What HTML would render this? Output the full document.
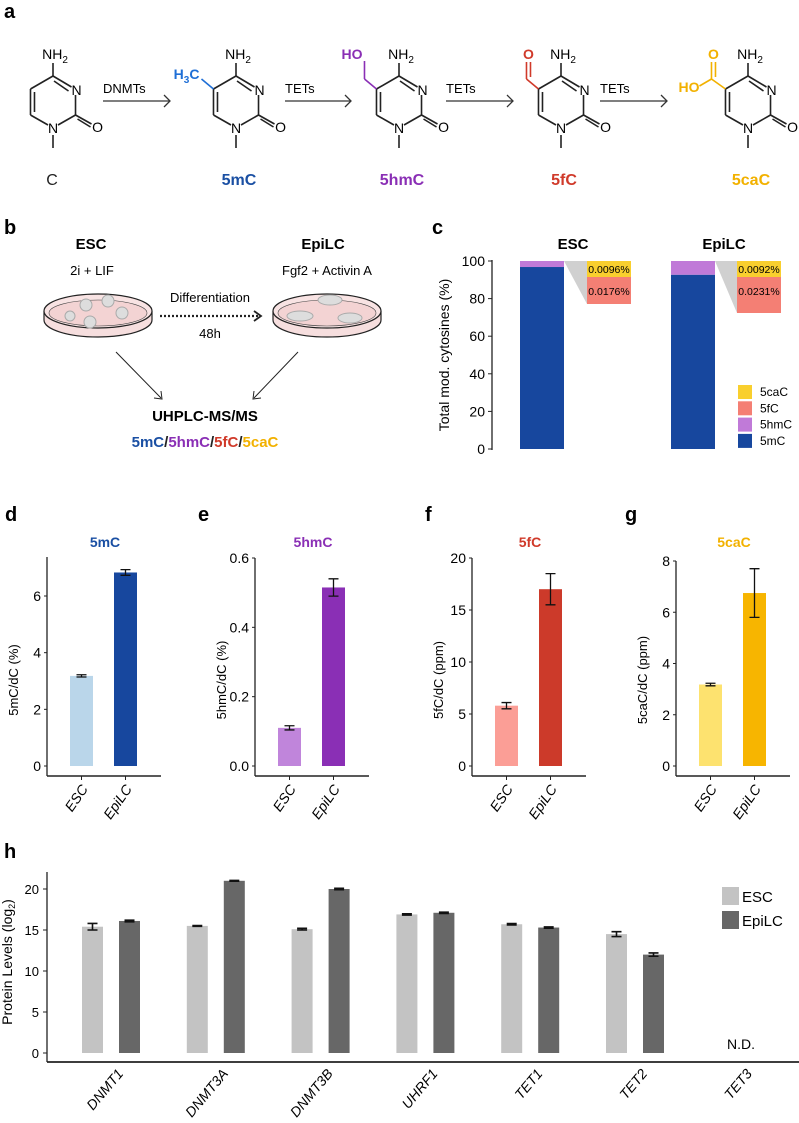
<!DOCTYPE html>
<html><head><meta charset="utf-8"><style>
html,body{margin:0;padding:0;background:#fff;}
svg{display:block;font-family:"Liberation Sans",sans-serif;}
</style></head><body>
<svg id="fig" width="799" height="1123" viewBox="0 0 799 1123" xmlns="http://www.w3.org/2000/svg">
<g id="pa">
<text x="4" y="18" font-size="20" font-weight="bold">a</text>
</g>
<g id="pb">
<text x="4" y="234" font-size="20" font-weight="bold">b</text>
<text x="91" y="249" font-size="15" font-weight="bold" text-anchor="middle">ESC</text>
<text x="92" y="275" font-size="13" text-anchor="middle">2i + LIF</text>
<text x="323" y="249" font-size="15" font-weight="bold" text-anchor="middle">EpiLC</text>
<text x="327" y="275" font-size="13" text-anchor="middle">Fgf2 + Activin A</text>
<g>
<path d="M44 311 L44 320 A54 17 0 0 0 152 320 L152 311" fill="#f6dede" stroke="#222" stroke-width="1.2"/>
<ellipse cx="98" cy="311" rx="54" ry="17" fill="#f8e3e3" stroke="#222" stroke-width="1.2"/>
<ellipse cx="98" cy="313" rx="49" ry="13" fill="#f3d3d3" stroke="#444" stroke-width="0.6"/>
<circle cx="86" cy="305" r="6" fill="#ddd" stroke="#aaa"/><circle cx="108" cy="301" r="6" fill="#ddd" stroke="#aaa"/>
<circle cx="70" cy="316" r="5" fill="#ddd" stroke="#aaa"/><circle cx="122" cy="313" r="6" fill="#ddd" stroke="#aaa"/><circle cx="90" cy="322" r="6" fill="#ddd" stroke="#aaa"/>
</g>
<g>
<path d="M273 311 L273 320 A54 17 0 0 0 381 320 L381 311" fill="#f6dede" stroke="#222" stroke-width="1.2"/>
<ellipse cx="327" cy="311" rx="54" ry="17" fill="#f8e3e3" stroke="#222" stroke-width="1.2"/>
<ellipse cx="327" cy="313" rx="49" ry="13" fill="#f3d3d3" stroke="#444" stroke-width="0.6"/>
<ellipse cx="330" cy="300" rx="12" ry="5" fill="#ddd" stroke="#aaa"/><ellipse cx="300" cy="316" rx="13" ry="5" fill="#ddd" stroke="#aaa"/><ellipse cx="350" cy="318" rx="12" ry="5" fill="#ddd" stroke="#aaa"/>
</g>
<text x="210" y="302" font-size="13" text-anchor="middle">Differentiation</text>
<line x1="160" y1="316" x2="258" y2="316" stroke="#222" stroke-width="2.2" stroke-dasharray="2,2"/>
<path d="M254 311 L261 316 L254 321" fill="none" stroke="#222" stroke-width="1.8"/>
<text x="210" y="338" font-size="13" text-anchor="middle">48h</text>
<line x1="116" y1="352" x2="161" y2="398" stroke="#222" stroke-width="1"/><path d="M154 398 L162 399 L161 391" fill="none" stroke="#222"/>
<line x1="298" y1="352" x2="254" y2="398" stroke="#222" stroke-width="1"/><path d="M254 391 L253 399 L261 398" fill="none" stroke="#222"/>
<text x="205" y="421" font-size="15" font-weight="bold" text-anchor="middle">UHPLC-MS/MS</text>
<text x="205" y="447" font-size="15" font-weight="bold" text-anchor="middle"><tspan fill="#1a4fa3">5mC</tspan><tspan fill="#222">/</tspan><tspan fill="#8a2fb5">5hmC</tspan><tspan fill="#222">/</tspan><tspan fill="#d03a2a">5fC</tspan><tspan fill="#222">/</tspan><tspan fill="#f2b100">5caC</tspan></text>
</g>
<g id="pc"></g>
<g id="pdg"></g>
<g id="ph"></g>
</svg>
<script>
var NS="http://www.w3.org/2000/svg";
function el(p,t,a,txt){var e=document.createElementNS(NS,t);for(var k in a)e.setAttribute(k,a[k]);if(txt!==undefined)e.textContent=txt;p.appendChild(e);return e;}

/* ---- panel a molecules ---- */
var molNames=["C","5mC","5hmC","5fC","5caC"];
var molColors=["#222","#1f6fd6","#8a2fb5","#d03a2a","#f2b100"];
var molCx=[53,236,399,561,748];
var arrowLabels=["DNMTs","TETs","TETs","TETs"];
var arrowX=[[103,170],[285,351],[446,513],[600,667]];
var pa=document.getElementById('pa');
molNames.forEach(function(n,i){
  var g=el(pa,'g',{});
  
  
  var cx=molCx[i],cy=102,r=26,s="#222";
  var P=[];for(var k=0;k<6;k++){var a=(-90+60*k)*Math.PI/180;P.push([cx+r*Math.cos(a),cy+r*Math.sin(a)]);}
  function ln(a,b,c){el(g,'line',{x1:a[0],y1:a[1],x2:b[0],y2:b[1],stroke:c||s,'stroke-width':1.6});}
  ln(P[0],[P[1][0]-4,P[1][1]-2]);ln([P[1][0],P[1][1]+6],P[2]);ln(P[2],[P[3][0]+5,P[3][1]-3]);ln([P[3][0]-5,P[3][1]-3],P[4]);ln(P[4],P[5]);ln(P[5],P[0]);
  ln([P[0][0]+1,P[0][1]+5],[P[1][0]-7,P[1][1]+2]);
  ln([P[4][0]+4,P[4][1]-3],[P[5][0]+4,P[5][1]+3]);
  ln(P[0],[P[0][0],P[0][1]-13]);
  ln(P[2],[P[2][0]+16,P[2][1]+9]);ln([P[2][0]+2,P[2][1]+4],[P[2][0]+15,P[2][1]+12]);
  ln([P[3][0],P[3][1]+7],[P[3][0],P[3][1]+20]);
  el(g,'text',{x:P[0][0]+2,y:P[0][1]-17,'font-size':14,'text-anchor':'middle'}).innerHTML='NH<tspan font-size="10" dy="4">2</tspan>';
  el(g,'text',{x:P[1][0]+1,y:P[1][1]+6,'font-size':14,'text-anchor':'middle'},'N');
  el(g,'text',{x:P[3][0],y:P[3][1]+5,'font-size':14,'text-anchor':'middle'},'N');
  el(g,'text',{x:P[2][0]+22,y:P[2][1]+17,'font-size':14,'text-anchor':'middle'},'O');
  var c=molColors[i],x5=P[5][0],y5=P[5][1];
  if(i==1){ln([x5,y5],[x5-12,y5-10],c);el(g,'text',{x:x5-14,y:y5-10,'font-size':14,'text-anchor':'end',fill:c,'font-weight':'bold'}).innerHTML='H<tspan font-size="10" dy="4">3</tspan><tspan dy="-4">C</tspan>';}
  if(i==2){ln([x5,y5],[x5-12,y5-10],c);ln([x5-12,y5-10],[x5-12,y5-28],c);el(g,'text',{x:x5-14,y:y5-30,'font-size':14,'text-anchor':'end',fill:c,'font-weight':'bold'},'HO');}
  if(i==3){ln([x5,y5],[x5-12,y5-10],c);ln([x5-12,y5-10],[x5-12,y5-27],c);ln([x5-8,y5-12],[x5-8,y5-27],c);el(g,'text',{x:x5-10,y:y5-30,'font-size':14,'text-anchor':'middle',fill:c,'font-weight':'bold'},'O');}
  if(i==4){ln([x5,y5],[x5-14,y5-10],c);ln([x5-14,y5-10],[x5-14,y5-27],c);ln([x5-10,y5-12],[x5-10,y5-27],c);ln([x5-14,y5-10],[x5-26,y5-3],c);el(g,'text',{x:x5-12,y:y5-30,'font-size':14,'text-anchor':'middle',fill:c,'font-weight':'bold'},'O');el(g,'text',{x:x5-26,y:y5+3,'font-size':14,'text-anchor':'end',fill:c,'font-weight':'bold'},'HO');}
  var t=el(g,'text',{x:molCx[i]+(i==0?-1:3),y:185,'font-size':16,'text-anchor':'middle',fill:i==0?'#222':(i==1?'#1a4fa3':molColors[i]),'font-weight':i==0?'normal':'bold'},n);
  
  
});
arrowLabels.forEach(function(l,i){
  var g=el(pa,'g',{});
  
  
  var x1=arrowX[i][0],x2=arrowX[i][1];
  el(g,'line',{x1:x1,y1:101,x2:x2,y2:101,stroke:'#333','stroke-width':1.3});
  el(g,'path',{d:'M'+(x2-6)+' 95 L'+x2+' 101 L'+(x2-6)+' 107',fill:'none',stroke:'#333','stroke-width':1.3});
  el(g,'text',{x:x1,y:93,'font-size':13},l);
});

/* ---- panel c ---- */
var cCats=["ESC","EpiLC"];
var c5mC=[96.8,92.7];
var c5hmC=[3.2,7.3];
var c5fCpct=["0.0176%","0.0231%"];
var c5caCpct=["0.0096%","0.0092%"];
var cTicks=[0,20,40,60,80,100];
(function(){
 var pc=document.getElementById('pc');
 var y0=449,y100=261;function Y(v){return y0-(y0-y100)*v/100;}
 var ax=492;
 var t=el(pc,'text',{x:432,y:234,'font-size':20,'font-weight':'bold'},'c');
 
 
 var yl=el(pc,'text',{x:0,y:0,'font-size':14,'text-anchor':'middle',transform:'translate(449,355) rotate(-90)'},'Total mod. cytosines (%)');
 
 
 el(pc,'line',{x1:ax,y1:y100-1,x2:ax,y2:y0+1,stroke:'#222','stroke-width':1.3});
 cTicks.forEach(function(v){el(pc,'line',{x1:ax-4,y1:Y(v),x2:ax,y2:Y(v),stroke:'#222'});
  var tt=el(pc,'text',{x:ax-7,y:Y(v)+5,'font-size':14,'text-anchor':'end'},v);
  
  });
 var bx=[520,671],bw=44,boxX=[587,737],boxW=44;
 cCats.forEach(function(c,i){
  var x=bx[i];
  var tl=el(pc,'text',{x:x+53,y:249,'font-size':15,'font-weight':'bold','text-anchor':'middle'},c);
  
  
  var b=el(pc,'rect',{x:x,y:Y(c5mC[i]),width:bw,height:Y(0)-Y(c5mC[i]),fill:'#17479e'});
  
  
  var b2=el(pc,'rect',{x:x,y:Y(c5mC[i]+c5hmC[i]),width:bw,height:Y(c5mC[i])-Y(c5mC[i]+c5hmC[i]),fill:'#c07ad8'});
  
  
  var rb=i==0?304:313;
  el(pc,'path',{d:'M'+(x+bw)+' '+y100+' L'+boxX[i]+' '+y100+' L'+boxX[i]+' '+rb+' Z',fill:'#d0d0d0'});
  var y1=el(pc,'rect',{x:boxX[i],y:y100,width:boxW,height:16,fill:'#f9cf2e'});
  
  
  var r1=el(pc,'rect',{x:boxX[i],y:y100+16,width:boxW,height:rb-y100-16,fill:'#f47f74'});
  
  
  el(pc,'text',{x:boxX[i]+22,y:y100+12,'font-size':10.5,'text-anchor':'middle'},c5caCpct[i]);
  el(pc,'text',{x:boxX[i]+22,y:y100+34,'font-size':10.5,'text-anchor':'middle'},c5fCpct[i]);
 });
 var leg=[["5caC","#f9cf2e"],["5fC","#f47f74"],["5hmC","#c07ad8"],["5mC","#17479e"]];
 leg.forEach(function(l,i){var g=el(pc,'g',{});
  
  
  var yy=385+i*16.3;el(g,'rect',{x:738,y:yy,width:14,height:14,fill:l[1]});el(g,'text',{x:760,y:yy+11,'font-size':12},l[0]);});
})();

/* ---- panels d-g ---- */
var dgCats=["ESC","EpiLC"];
var dgNames=["5mC","5hmC","5fC","5caC"];
var dgVals=[[3.18,6.83],[0.11,0.515],[5.8,17.0],[3.18,6.75]];
var dgErr=[[0.04,0.1],[0.006,0.025],[0.3,1.5],[0.05,0.95]];
var dgTicks=[[0,2,4,6],[0.0,0.2,0.4,0.6],[0,5,10,15,20],[0,2,4,6,8]];
var dgTickLbl=[["0","2","4","6"],["0.0","0.2","0.4","0.6"],["0","5","10","15","20"],["0","2","4","6","8"]];
var dgMax=[7.12,0.6,20,8];
var dgYlab=["5mC/dC (%)","5hmC/dC (%)","5fC/dC (ppm)","5caC/dC (ppm)"];
(function(){
 var P=document.getElementById('pdg');
 var axX=[47,255,472,676],topY=[558,558,558,561],y0=766;
 var cols=[["#bad6ea","#17479e"],["#c085db","#8a2fb5"],["#fb9e96","#cc3a2a"],["#fde26f","#f7b500"]];
 var tcol=["#1a4fa3","#8a2fb5","#d03a2a","#f2b100"];
 var letters=["d","e","f","g"],lx=[5,198,425,625];
 dgNames.forEach(function(n,k){
  var g=el(P,'g',{});
  
  
  var ax=axX[k];
  var top=k==0?557:topY[k];
  function Y(v){var yt=k==0?596:topY[k];var vt=k==0?6:dgMax[k];return y0-(y0-yt)*v/vt;}
  el(g,'text',{x:lx[k],y:521,'font-size':20,'font-weight':'bold'},letters[k]);
  var tt=el(g,'text',{x:ax+58,y:547,'font-size':14,'font-weight':'bold','text-anchor':'middle',fill:tcol[k]},n);
  
  
  el(g,'line',{x1:ax,y1:top,x2:ax,y2:776,stroke:'#222','stroke-width':1.3});
  el(g,'line',{x1:ax,y1:776,x2:ax+114,y2:776,stroke:'#222','stroke-width':1.6});
  var yl=el(g,'text',{x:0,y:0,'font-size':13,'text-anchor':'middle',transform:'translate('+(ax-29)+',680) rotate(-90)'},dgYlab[k]);
  
  
  dgTicks[k].forEach(function(v,j){el(g,'line',{x1:ax-3,y1:Y(v),x2:ax,y2:Y(v),stroke:'#222'});
   el(g,'text',{x:ax-6,y:Y(v)+5,'font-size':14,'text-anchor':'end'},dgTickLbl[k][j]);});
  dgCats.forEach(function(c,i){
   var bx=ax+23+i*44,bw=23,v=dgVals[k][i],e=dgErr[k][i];
   var b=el(g,'rect',{x:bx,y:Y(v),width:bw,height:y0-Y(v),fill:cols[k][i]});
   
   
   var cx=bx+bw/2;
   el(g,'path',{d:'M'+cx+' '+Y(v+e)+' V'+Y(v-e)+' M'+(cx-5)+' '+Y(v+e)+' H'+(cx+5)+' M'+(cx-5)+' '+Y(v-e)+' H'+(cx+5),stroke:'#111','stroke-width':1.3,fill:'none'});
   el(g,'line',{x1:cx,y1:776,x2:cx,y2:780,stroke:'#222'});
   var xl=el(g,'text',{x:0,y:0,'font-size':14,'font-style':'italic','text-anchor':'end',transform:'translate('+(cx+7)+',789) rotate(-55)'},c);
   
   
  });
 });
})();

/* ---- panel h ---- */
var hGenes=["DNMT1","DNMT3A","DNMT3B","UHRF1","TET1","TET2","TET3"];
var hESC=[15.4,15.5,15.1,16.9,15.7,14.5,null];
var hEpi=[16.1,21.0,20.0,17.1,15.3,12.0,null];
var hESCerr=[0.4,0.05,0.1,0.08,0.08,0.3,null];
var hEpiErr=[0.1,0.05,0.08,0.08,0.08,0.2,null];
var hTicks=[0,5,10,15,20];
(function(){
 var P=document.getElementById('ph');
 var ax=47,y0=1053;function Y(v){return y0-v*8.2;}
 var t=el(P,'text',{x:4,y:858,'font-size':20,'font-weight':'bold'},'h');
 
 
 el(P,'line',{x1:ax,y1:872,x2:ax,y2:1062,stroke:'#222','stroke-width':1.3});
 el(P,'line',{x1:ax,y1:1062,x2:799,y2:1062,stroke:'#222','stroke-width':1.8});
 var yl=el(P,'text',{x:0,y:0,'font-size':14,'text-anchor':'middle',transform:'translate(12,962) rotate(-90)'});
 yl.innerHTML='Protein Levels (log<tspan font-size="9" dy="3">2</tspan><tspan dy="-3">)</tspan>';
 
 
 hTicks.forEach(function(v){el(P,'line',{x1:ax-4,y1:Y(v),x2:ax,y2:Y(v),stroke:'#222'});
  el(P,'text',{x:ax-8,y:Y(v)+5,'font-size':13,'text-anchor':'end'},v);});
 hGenes.forEach(function(gn,i){
  var gx=82+i*104.8;
  [[hESC,hESCerr,'#c3c3c3','ESC',0],[hEpi,hEpiErr,'#676767','EpiLC',37]].forEach(function(s){
   var v=s[0][i];if(v===null)return;var e=s[1][i];var bx=gx+s[4];
   var b=el(P,'rect',{x:bx,y:Y(v),width:21,height:y0-Y(v),fill:s[2]});
   
   
   var cx=bx+10.5;
   el(P,'path',{d:'M'+cx+' '+Y(v+e)+' V'+Y(v-e)+' M'+(cx-5)+' '+Y(v+e)+' H'+(cx+5)+' M'+(cx-5)+' '+Y(v-e)+' H'+(cx+5),stroke:'#111','stroke-width':1.6,fill:'none'});
  });
  var xl=el(P,'text',{x:0,y:0,'font-size':14,'font-style':'italic','text-anchor':'end',transform:'translate('+(gx+42)+',1074) rotate(-50)'},gn);
  
  
 });
 var nd=el(P,'text',{x:741,y:1049,'font-size':14,'text-anchor':'middle'},'N.D.');
 
 
 [['ESC','#c3c3c3',887],['EpiLC','#676767',911]].forEach(function(l){
  var g=el(P,'g',{});
  
  
  el(g,'rect',{x:722,y:l[2],width:17,height:18,fill:l[1]});
  el(g,'text',{x:742,y:l[2]+15,'font-size':15},l[0]);
 });
})();
</script>
</body></html>
